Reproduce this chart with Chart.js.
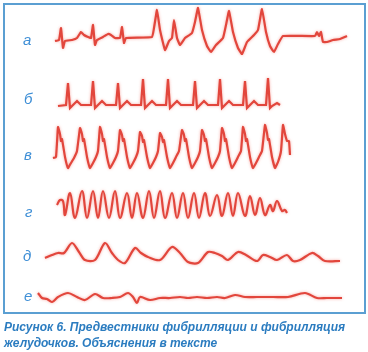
<!DOCTYPE html>
<html>
<head>
<meta charset="utf-8">
<script src="https://cdn.jsdelivr.net/npm/chart.js@4.4.1/dist/chart.umd.min.js"></script>
<style>
  body { margin: 0; background: #fff; }
  #wrap { position: relative; width: 368px; height: 352px; overflow: hidden; }
  #frame { position: absolute; left: 3px; top: 3px; width: 359px; height: 307px; border: 2px solid #5b9fd2; }
  #ecg { position: absolute; left: 0; top: 0; }
  .lbl { position: absolute; font: italic 15px "Liberation Sans", Arial, sans-serif; color: #3f8fd6; line-height: 15px; }
  #caption { position: absolute; left: 4px; top: 319px; font: italic bold 12px "Liberation Sans", Arial, sans-serif; color: #2b7cc0; line-height: 16px; white-space: nowrap; }
</style>
</head>
<body>
<div id="wrap">
  <div id="frame"></div>
  <canvas id="ecg" width="368" height="352"></canvas>
  <span class="lbl" style="left:23px;top:32px">а</span>
  <span class="lbl" style="left:24px;top:91px">б</span>
  <span class="lbl" style="left:24px;top:147px">в</span>
  <span class="lbl" style="left:25px;top:204px">г</span>
  <span class="lbl" style="left:23px;top:248px">д</span>
  <span class="lbl" style="left:24px;top:288px">е</span>
  <div id="caption">Рисунок 6. Предвестники фибрилляции и фибрилляция<br>желудочков. Объяснения в тексте</div>
</div>
<script>
// ECG strips а–е, time in sample units, amplitude in 0.1 mV

const rowLabels = ['а', 'б', 'в', 'г', 'д', 'е'];

// а
const aTime = [55,59,61,63,65,72,77,81,84,88,91,93,95,97,103,108,111,115,120,122,124,126,152,154,157,160,165,169,172,174,177,180,185,192,195,198,202,207,211,216,223,226,229,233,238,242,247,254,258,262,266,270,274,278,283,315,317,319,321,323,327,333,340,347];
const aVolt = [-1,0,12,-8,-1,0,2,8,5,3,2,15,-5,0,3,6,5,2,2,13,-3,2,3,12,30,10,-10,-1,2,20,2,-5,2,7,18,32,10,-6,-12,-5,2,15,29,8,-8,-14,-2,5,10,31,8,-6,-12,-4,4,4,8,4,8,-2,-2,0,1,4];

// б
const bTime = [58,66,68,70,72,77,81, 91,93,95,97,102,106, 116,118,120,122,127,131, 141,143,145,147,152,156, 166,168,170,172,177,181, 193,195,197,199,204,208, 218,220,222,224,229,233, 243,245,247,249,254,258, 266,268,270,272,277,280];
const bVolt = [-1,0,22,-3,-1,4,0, 0,24,-3,-1,4,0, 0,22,-3,-1,4,0, 0,26,-3,-1,4,0, 0,26,-3,-1,4,0, 0,24,-3,-1,4,0, 0,26,-3,-1,4,0, 0,24,-3,-1,4,0, 0,27,-3,-1,2,0];

// в
const vTime = [53,56,58,60,61,62,65,68,71,74,77,
  80,82,83,84,87,90,93,96,98,
  100,102,103,104,107,110,113,116,118,
  120,122,123,124,127,130,133,136,138,
  140,142,143,144,147,150,153,156,158,
  160,162,163,164,167,170,173,176,179,
  182,184,185,186,189,192,195,198,200,
  202,204,205,206,209,212,215,218,220,
  222,224,225,226,229,232,235,238,241,
  243,245,246,247,250,253,256,259,262,
  265,267,268,269,272,275,278,281,
  283,285,287,289,290];
const vVolt = [-6,-5,25,18,11,13,-5,-16,-11,-6,1,
  24,18,11,13,-5,-16,-11,-5,1,
  25,18,11,13,-5,-16,-11,-5,1,
  22,17,11,13,-5,-16,-11,-5,1,
  20,16,10,12,-5,-16,-11,-5,1,
  19,15,10,12,-5,-16,-11,-5,1,
  22,17,11,13,-5,-16,-11,-5,1,
  22,17,11,13,-5,-16,-11,-5,1,
  24,18,11,13,-5,-16,-11,-5,1,
  25,18,11,13,-5,-16,-11,-5,1,
  27,19,12,13,-5,-16,-10,1,
  27,18,11,11,-3];

// г
const gTime = [57,60,63,65,70,75,82,87,93,98,103,109,115,120,127,132,137,143,149,154,160,165,172,177,183,188,194,199,205,210,217,222,228,233,238,245,250,255,260,265,270,273,277,282,285,287];
const gVolt = [-1,4,3,-11,11,-14,13,-14,13,-14,13,-14,13,-14,11,-14,11,-14,13,-14,13,-14,11,-14,11,-14,11,-14,11,-12,9,-12,11,-12,11,-12,8,-11,6,-11,-1,-7,3,-7,-6,-9];

// д
const dTime = [45,52,58,64,72,79,85,95,105,112,118,125,135,141,148,160,172,180,188,198,208,215,222,228,238,246,257,263,270,277,287,293,300,312,318,325,340];
const dVolt = [0,3,5,5,15,6,-2,-2,15,5,-2,-5,10,5,1,-2,11,5,-4,-5,6,5,2,-2,6,3,-3,3,1,-2,3,-3,-2,5,2,-3,-3];

// е
const eTime = [38,42,47,52,58,68,77,85,95,103,112,120,128,133,137,140,150,160,170,180,188,197,207,217,225,235,245,257,273,288,305,317,327,342];
const eVolt = [5,0,-1,-4,1,5,1,-2,4,0,0,1,5,1,-5,1,-2,0,0,1,0,1,0,1,0,3,1,1,1,1,5,0,0,0];

// amplitude window of each strip
const rowMax = [37, 43, 36, 26, 30, 20];
const rowMin = [-22, -11, -26, -24, -20, -14];
const rowTension = [0.1, 0, 0.1, 0.4, 0.3, 0.3];

const times = [aTime, bTime, vTime, gTime, dTime, eTime];
const volts = [aVolt, bVolt, vVolt, gVolt, dVolt, eVolt];

const datasets = volts.map((v, i) => ({
  label: rowLabels[i],
  data: v.map((y, k) => ({ x: times[i][k], y: y })),
  yAxisID: 'y' + i,
  borderColor: '#e2463c',
  borderWidth: 2.2,
  pointRadius: 0,
  tension: rowTension[i],
  fill: false
}));

const scales = {
  x: { type: 'linear', min: 0, max: 368, display: false }
};
rowLabels.forEach((l, i) => {
  scales['y' + i] = {
    type: 'linear',
    position: 'right',
    stack: 'strips',
    stackWeight: rowMax[i] - rowMin[i],
    min: rowMin[i],
    max: rowMax[i],
    display: false
  };
});

// soft pink halo round the traces, like the printed scan
const glow = {
  id: 'glow',
  beforeDatasetsDraw(chart) {
    const c = chart.ctx;
    c.save();
    c.shadowColor = 'rgba(240,110,100,0.6)';
    c.shadowBlur = 3;
  },
  afterDatasetsDraw(chart) {
    chart.ctx.restore();
  }
};

new Chart('ecg', {
  type: 'line',
  data: { datasets: datasets },
  options: {
    responsive: false,
    animation: false,
    layout: { padding: { top: 3, bottom: 40, left: 0, right: 0 } },
    plugins: { legend: { display: false }, tooltip: { enabled: false } },
    scales: scales
  },
  plugins: [glow]
});
</script>
</body>
</html>
